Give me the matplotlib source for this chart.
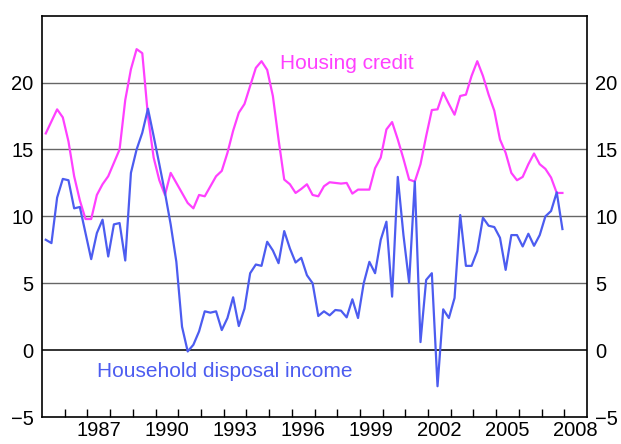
import matplotlib
matplotlib.use("Agg")
import matplotlib.pyplot as plt
import numpy as np

# quarterly, Mar-1985 .. Dec-2007, year-ended growth (%)
housing_credit = [16.2, 17.1, 18.0, 17.4, 15.6, 13.0, 11.2, 9.8, 9.8, 11.6, 12.4, 13.0,
                  14.0, 15.0, 18.7, 21.0, 22.5, 22.2, 17.5, 14.4, 12.7, 11.6, 13.25, 12.5,
                  11.75, 11.0, 10.6, 11.6, 11.5, 12.25, 13.0, 13.4, 14.75, 16.4, 17.75, 18.4,
                  19.75, 21.1, 21.6, 20.95, 19.0, 15.75, 12.75, 12.4, 11.75, 12.05, 12.4, 11.6,
                  11.5, 12.25, 12.55, 12.5, 12.45, 12.5, 11.7, 12.0, 12.0, 12.0, 13.6, 14.4,
                  16.5, 17.05, 15.75, 14.3, 12.75, 12.6, 13.9, 16.0, 17.95, 18.0, 19.25, 18.4,
                  17.6, 19.0, 19.1, 20.5, 21.6, 20.5, 19.1, 17.9, 15.75, 14.75, 13.25, 12.7,
                  12.95, 13.9, 14.7, 13.9, 13.55, 12.9, 11.75, 11.75]
household_income = [8.25, 8.0, 11.4, 12.8, 12.7, 10.6, 10.7, 8.75, 6.8, 8.75, 9.75, 7.0,
                    9.4, 9.5, 6.7, 13.25, 15.0, 16.25, 18.05, 16.0, 13.9, 11.75, 9.4, 6.6,
                    1.75, -0.1, 0.4, 1.4, 2.9, 2.8, 2.9, 1.5, 2.4, 3.95, 1.8, 3.1,
                    5.75, 6.4, 6.3, 8.1, 7.45, 6.5, 8.9, 7.6, 6.55, 6.9, 5.6, 5.0,
                    2.55, 2.9, 2.6, 3.0, 2.95, 2.45, 3.8, 2.4, 5.0, 6.6, 5.75, 8.25,
                    9.6, 4.0, 12.95, 8.6, 5.05, 12.6, 0.6, 5.25, 5.75, -2.7, 3.05, 2.4,
                    3.9, 10.1, 6.3, 6.3, 7.4, 9.9, 9.3, 9.2, 8.4, 6.0, 8.6, 8.6,
                    7.75, 8.7, 7.8, 8.6, 10.0, 10.4, 11.8, 9.05]
year_labels = ["1987", "1990", "1993", "1996", "1999", "2002", "2005", "2008"]
y_ticks = [-5, 0, 5, 10, 15, 20]

pink = "#ff40ff"
blue = "#4c5cf0"

plt.rcParams["font.family"] = ["Liberation Sans", "DejaVu Sans"]

# x position of each quarter (start of the quarter's last month)
x = 1985 + 2 / 12 + 0.25 * np.arange(len(housing_credit))

fig = plt.figure(figsize=(6.21, 4.44), dpi=100)
ax = fig.add_axes([0.0676, 0.0608, 0.8777, 0.9038])

for yv in [5, 10, 15, 20]:
    ax.axhline(yv, color="#666666", lw=1.0, zorder=1)
ax.axhline(0, color="#333333", lw=1.4, zorder=1)

ax.plot(x, housing_credit, color=pink, lw=1.6, zorder=3)
ax.plot(x, household_income, color=blue, lw=1.6, zorder=3)

ax.set_xlim(1985, 2009)
ax.set_ylim(-5, 25)

ax.set_yticks(y_ticks)
ax.set_yticklabels([str(v).replace("-", "\u2212") for v in y_ticks])
ax.set_xticks([int(s) + 0.5 for s in year_labels])
ax.set_xticklabels(year_labels)
ax.set_xticks(np.arange(1986, 2009), minor=True)

ax.tick_params(axis="y", length=0, labelsize=14.5, pad=6, labelright=True, right=False)
ax.tick_params(axis="x", which="major", length=0, labelsize=14.5, pad=3)
ax.tick_params(axis="x", which="minor", direction="in", length=6, width=1.0)

for sp in ax.spines.values():
    sp.set_color("black")
    sp.set_linewidth(1.2)

ax.text(1998.43, 21.4, "Housing credit", color=pink, fontsize=15, ha="center", va="center")
ax.text(1993.03, -1.6, "Household disposal income", color=blue, fontsize=15,
        ha="center", va="center")

plt.savefig("out.png", dpi=100)
plt.close()
